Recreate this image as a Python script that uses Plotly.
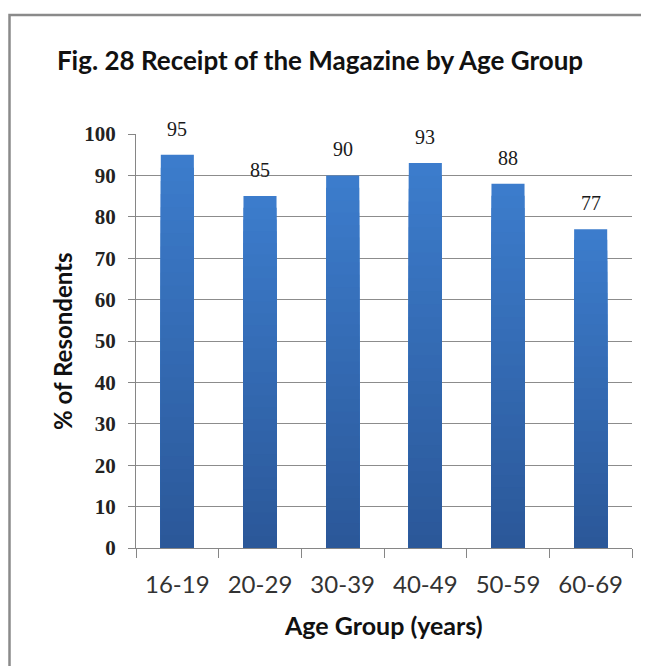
import plotly.graph_objects as go

# ---- data ----
age_groups = ["16-19", "20-29", "30-39", "40-49", "50-59", "60-69"]
pct_respondents = [95, 85, 90, 93, 88, 77]
y_ticks = [0, 10, 20, 30, 40, 50, 60, 70, 80, 90, 100]

title_text = "Fig. 28 Receipt of the Magazine by Age Group"
x_title = "Age Group (years)"
y_title = "% of Resondents"

# ---- style ----
OFF = 8  # page body margin
W, H = 649 - OFF, 666 - OFF
# target plot area in window pixels: x 136..632, y 134..548
L, R, T, B = 136 - OFF, 649 - 632, 134 - OFF, 666 - 548
top_col = (60, 124, 204)
bot_col = (43, 88, 153)
N_LAYERS = 30

fig = go.Figure()

def lerp(a, b, t):
    return tuple(round(a[k] + (b[k] - a[k]) * t) for k in range(3))

# vertical gradient: overlaid bars, lighter on top, darker towards bottom
for i in range(N_LAYERS):
    frac = (N_LAYERS - i) / N_LAYERS
    c = lerp(top_col, bot_col, i / (N_LAYERS - 1))
    fig.add_trace(go.Bar(
        x=age_groups,
        y=[v * frac for v in pct_respondents],
        width=0.4,
        marker=dict(color="rgb(%d,%d,%d)" % c, line=dict(width=0)),
        showlegend=False,
        hoverinfo="skip" if i else None,
    ))

# data labels
for cat, v in zip(age_groups, pct_respondents):
    fig.add_annotation(x=cat, y=v, text=str(v), showarrow=False,
                       yanchor="bottom", yshift=13,
                       font=dict(family="Liberation Serif", size=20, color="#1a1a1a"))

pw = W - L - R
ph = H - T - B
# window-pixel -> paper coordinate helpers
def px(xw):
    return (xw - 136) / pw

def py(yw):
    return (548 - yw) / ph

# axis titles as annotations
fig.add_annotation(xref="paper", yref="paper", x=px(383), y=py(625),
                   text="<b>" + x_title + "</b>", showarrow=False,
                   xanchor="center", yanchor="middle",
                   font=dict(family="Lato", size=25, color="#111111"))
fig.add_annotation(xref="paper", yref="paper", x=px(62), y=py(341),
                   text="<b>" + y_title + "</b>", showarrow=False, textangle=-90,
                   xanchor="center", yanchor="middle",
                   font=dict(family="Lato", size=24, color="#111111"))

# outer frame (top and left edges visible)
fig.add_shape(type="path", xref="paper", yref="paper",
              path=f"M {px(9.5)} {py(675)} L {px(9.5)} {py(15)} L {px(660)} {py(15)}",
              line=dict(color="#8a8a8a", width=2.5))

fig.update_layout(
    width=W, height=H,
    margin=dict(l=L, r=R, t=T, b=B),
    paper_bgcolor="white", plot_bgcolor="white",
    barmode="overlay",
    title=dict(text="<b>" + title_text + "</b>", x=(320 - OFF) / W, xanchor="center",
               y=1 - (61 - OFF) / H, yanchor="middle",
               font=dict(family="Lato", size=26, color="#111111")),
    xaxis=dict(
        type="category", tickson="boundaries", ticks="outside", ticklen=9,
        tickcolor="#868686", showline=True, linecolor="#868686", linewidth=1,
        showgrid=False, tickfont=dict(family="Lato", size=24, color="#333333"),
        ticklabelstandoff=15,
        range=[-0.5, len(age_groups) - 0.5],
    ),
    yaxis=dict(
        range=[0, 100], tickvals=y_ticks, ticks="outside", ticklen=7,
        tickcolor="#868686", showline=True, linecolor="#868686", linewidth=1,
        showgrid=True, gridcolor="#8c8c8c", gridwidth=1, zeroline=False,
        ticklabelstandoff=8,
        tickfont=dict(family="Liberation Serif", size=21, color="#222222", weight="bold"),
    ),
)

fig.write_html("out.html")
